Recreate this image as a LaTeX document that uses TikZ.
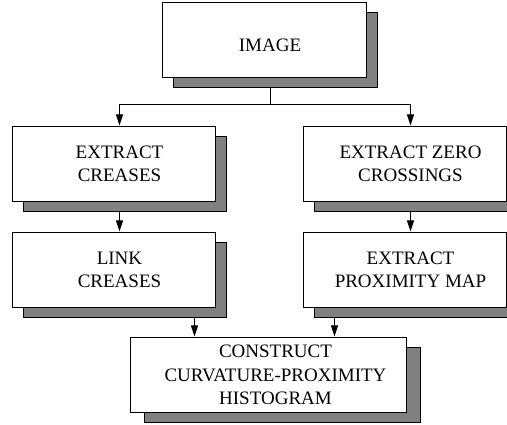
\documentclass[tikz,border=0pt]{standalone}
\usepackage{fontspec}
\setmainfont{Liberation Serif}
\usetikzlibrary{positioning, arrows.meta}
\definecolor{shadowgray}{RGB}{128,128,128}

\begin{document}
\begin{tikzpicture}
  [x=1pt,y=-1pt,line width=1pt,
   offx/.store in=\offx,offx=11pt,
   offtop/.store in=\offtop,offtop=10pt,
   procbox/.style={rectangle,inner sep=0pt,minimum width=215pt,minimum height=96pt,align=center,
     font=\fontsize{19}{23.5}\selectfont,
     path picture={
       \draw [line width=1pt,fill=shadowgray]
         ([shift={(\offx+0.5pt,-\offtop-10.5pt)}]path picture bounding box.north west)
         rectangle ([shift={(-0.5pt,0.5pt)}]path picture bounding box.south east);
       \draw [line width=1pt,fill=white]
         ([shift={(0.5pt,-\offtop-0.5pt)}]path picture bounding box.north west)
         rectangle ([shift={(-\offx-0.5pt,10.5pt)}]path picture bounding box.south east);}},
   flow/.style={-{Triangle[length=11pt,width=7pt]}}]
  \useasboundingbox (0,0) rectangle (507,425);
  \node (image) at (270,45) [procbox,minimum width=216pt,minimum height=86pt,offtop=0pt] {IMAGE};
  \node (creases) at (119.5,164) [procbox] {EXTRACT\\CREASES};
  \node (zerocross) [procbox,right=75pt of creases] {EXTRACT ZERO\\CROSSINGS};
  \node (link) [procbox,below=9pt of creases] {LINK\\CREASES};
  \node (proxmap) [procbox,below=9pt of zerocross] {EXTRACT\\PROXIMITY MAP};
  \node (histogram) at (275.5,375) [procbox,minimum width=291pt,offx=14pt] {CONSTRUCT\\CURVATURE-PROXIMITY\\HISTOGRAM};
  \coordinate (split) at ([yshift=-16pt]image.south);
  \coordinate (histL) at ([xshift=65pt,yshift=-10pt]histogram.north west);
  \coordinate (histR) at ([xshift=205pt,yshift=-10pt]histogram.north west);
  \draw (image.south) -- (split);
  \draw [flow] (split) -| ([yshift=-10pt]creases.north);
  \draw [flow] (split) -| ([yshift=-10pt]zerocross.north);
  \draw [flow] (creases.south) -- ([yshift=-10pt]link.north);
  \draw [flow] (zerocross.south) -- ([yshift=-10pt]proxmap.north);
  \draw [flow] (link.south -| histL) -- (histL);
  \draw [flow] (proxmap.south -| histR) -- (histR);
\end{tikzpicture}
\end{document}
